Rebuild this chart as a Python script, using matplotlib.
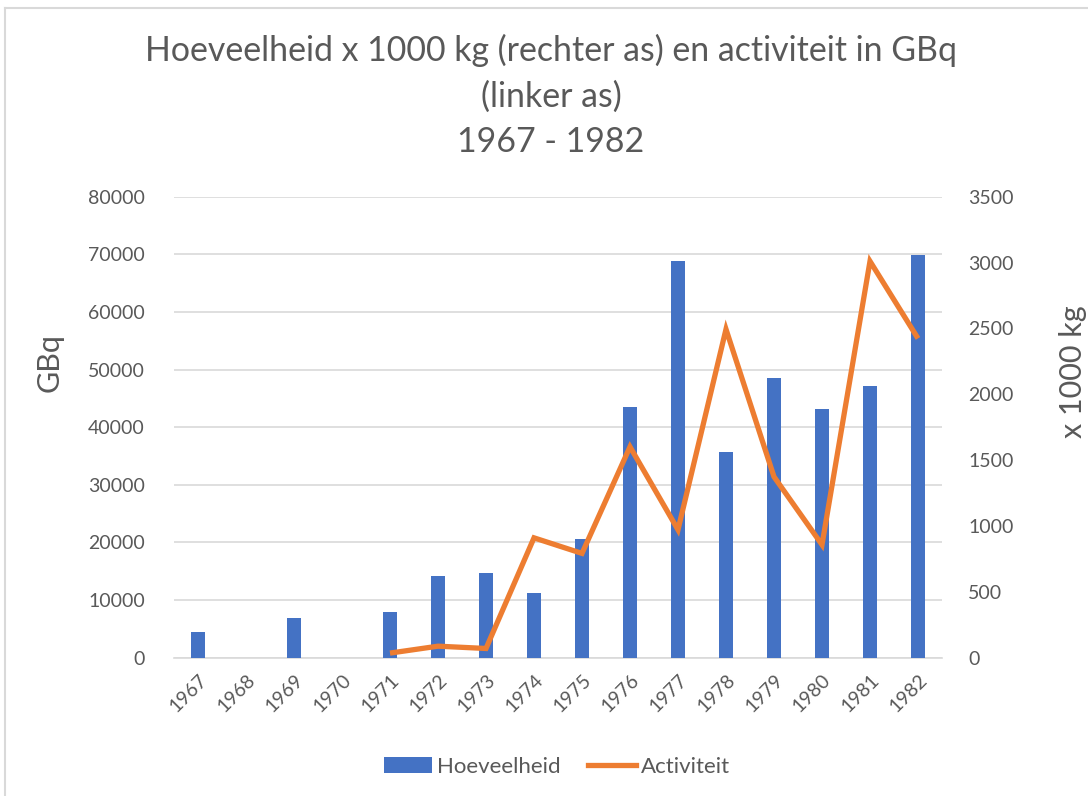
import numpy as np
import matplotlib
matplotlib.use('Agg')
import matplotlib.pyplot as plt
from matplotlib.lines import Line2D
from matplotlib.patches import Patch

dpi = 100

# data
jaren = ['1967', '1968', '1969', '1970', '1971', '1972', '1973', '1974',
         '1975', '1976', '1977', '1978', '1979', '1980', '1981', '1982']
# x 1000 kg, right axis
hoeveelheid = [195, np.nan, 305, np.nan, 345, 620, 645, 495,
               900, 1905, 3010, 1560, 2125, 1890, 2065, 3055]
# GBq, left axis
activiteit = [np.nan, np.nan, np.nan, np.nan, 800, 2000, 1600, 20800,
              18100, 36600, 22200, 57000, 31400, 19600, 68800, 55400]

grey = '#595959'
blue = '#4472C4'
orange = '#ED7D31'
gridc = '#D9D9D9'

plt.rcParams['font.family'] = ['Lato', 'DejaVu Sans']

fig = plt.figure(figsize=(1088 / dpi, 796 / dpi), dpi=dpi)
# base axes: left scale and grid
ax = fig.add_axes([174 / 1088, 1 - 657.7 / 796, 768 / 1088, 461 / 796])
ax2 = ax.twinx()   # bars, right scale
ax3 = ax.twinx()   # line, left scale, drawn on top

xs = np.arange(len(jaren))

ax2.bar(xs, hoeveelheid, width=0.31, color=blue, zorder=2)
ax3.plot(xs, activiteit, color=orange, linewidth=3.8, solid_joinstyle='miter',
         solid_capstyle='butt', zorder=3)

ax.set_xlim(-0.5, 15.5)
ax.set_ylim(0, 80000)
ax.set_yticks(np.arange(0, 80001, 10000))
ax.yaxis.grid(True, color=gridc, linewidth=1.2)
ax.set_axisbelow(True)
ax2.set_ylim(0, 3500)
ax2.set_yticks(np.arange(0, 3501, 500))
ax3.set_ylim(0, 80000)
ax3.set_yticks([])

for a in (ax, ax2, ax3):
    for s in a.spines.values():
        s.set_visible(False)
    a.tick_params(length=0)
ax.spines['bottom'].set_visible(True)
ax.spines['bottom'].set_color(gridc)
ax.spines['bottom'].set_linewidth(1.2)

ax.tick_params(axis='y', labelsize=14, labelcolor=grey, pad=21)
ax2.tick_params(axis='y', labelsize=14, labelcolor=grey, pad=19)
ax.set_xticks(xs)
ax.set_xticklabels(jaren, rotation=45, ha='right', rotation_mode='anchor',
                   fontsize=14, color=grey)
ax.tick_params(axis='x', pad=10)

fig.text(50 / 1088, 1 - 362 / 796, 'GBq', rotation=90, ha='center', va='center',
         fontsize=22, color=grey)
fig.text(1073 / 1088, 1 - 372 / 796, 'x 1000 kg', rotation=90, ha='center',
         va='center', fontsize=22, color=grey)

fig.text(551 / 1088, 1 - 96 / 796,
         'Hoeveelheid x 1000 kg (rechter as) en activiteit in GBq\n(linker as)\n1967 - 1982',
         ha='center', va='center', fontsize=24.4, color=grey, linespacing=1.5)

handles = [Patch(facecolor=blue), Line2D([], [], color=orange, linewidth=3.8)]
fig.legend(handles, ['Hoeveelheid', 'Activiteit'], loc='center',
           bbox_to_anchor=(557 / 1088, 1 - 767 / 796), ncol=2, frameon=False,
           fontsize=16, labelcolor=grey, handlelength=2.2, handletextpad=0.22,
           columnspacing=1.2)

# chart border
fig.add_artist(Line2D([5 / 1088, 1], [1 - 8 / 796] * 2, color=gridc, linewidth=1.5,
                      transform=fig.transFigure))
fig.add_artist(Line2D([5 / 1088] * 2, [0, 1 - 8 / 796], color=gridc, linewidth=1.5,
                      transform=fig.transFigure))

fig.savefig('out.png', dpi=dpi)
